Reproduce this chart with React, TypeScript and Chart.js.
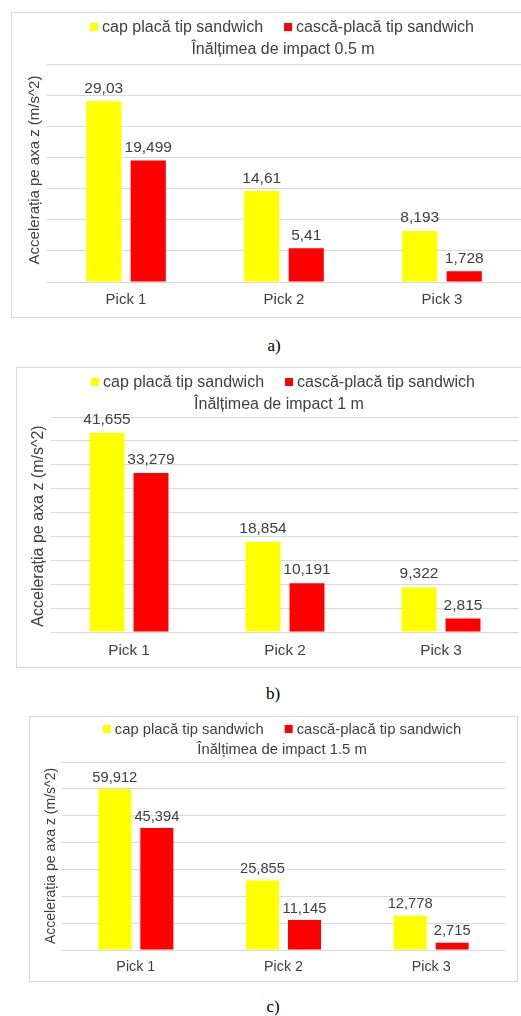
import React, { useEffect, useRef } from "react";
import { Chart, registerables } from "chart.js";

Chart.register(...registerables);

// ---------- data ----------
const categories = ["Pick 1", "Pick 2", "Pick 3"];
const seriesNames = ["cap placă tip sandwich", "cască-placă tip sandwich"];
const seriesColors = ["#FFFF00", "#FF0000"];

const capA = [29.03, 14.61, 8.193];
const cascaA = [19.499, 5.41, 1.728];
const capB = [41.655, 18.854, 9.322];
const cascaB = [33.279, 10.191, 2.815];
const capC = [59.912, 25.855, 12.778];
const cascaC = [45.394, 11.145, 2.715];

const chartTitles = [
  "Înălțimea de impact 0.5 m",
  "Înălțimea de impact 1 m",
  "Înălțimea de impact 1.5 m",
];
const yAxisTitle = "Accelerația pe axa z (m/s^2)";
const yMaxes = [35, 45, 70];
const ySteps = [5, 5, 10];
const captions = ["a)", "b)", "c)"];

// ---------- styles / layout ----------
const FONT = "'Liberation Sans', Arial, sans-serif";
const TEXT = "#404040";
const GRID = "#d9d9d9";

type Panel = {
  series: number[][];
  border: { left: number; top: number; width: number; height: number };
  canvas: { left: number; top: number; width: number; height: number };
  pad: { left: number; right: number; top: number; bottom: number };
  xAxisH: number;
  tickPad: number;
  tickSize: number;
  labelSize: number;
  labelGap: number;
  legendSize: number;
  legendY: number;
  legendCx: number;
  titleSize: number;
  titleY: number;
  titleCx: number;
  yTitleSize: number;
  yTitleX: number;
  yTitleY: number;
  catPct: number;
  barPct: number;
  caption: { x: number; y: number };
};

const panels: Panel[] = [
  {
    series: [capA, cascaA],
    border: { left: 11, top: 12, width: 530, height: 306 },
    canvas: { left: 12, top: 13, width: 509, height: 303 },
    pad: { left: 35, right: 0, top: 51, bottom: 0 },
    xAxisH: 34,
    tickPad: 9,
    tickSize: 15,
    labelSize: 15.5,
    labelGap: 8.5,
    legendSize: 16,
    legendY: 14,
    legendCx: 270,
    titleSize: 16,
    titleY: 37,
    titleCx: 271,
    yTitleSize: 15,
    yTitleX: 23,
    yTitleY: 157,
    catPct: 0.563,
    barPct: 0.79,
    caption: { x: 274, y: 345 },
  },
  {
    series: [capB, cascaB],
    border: { left: 16, top: 367, width: 530, height: 301 },
    canvas: { left: 17, top: 368, width: 504, height: 299 },
    pad: { left: 34, right: 2, top: 49, bottom: 0 },
    xAxisH: 35,
    tickPad: 10,
    tickSize: 15.3,
    labelSize: 15.5,
    labelGap: 9,
    legendSize: 16,
    legendY: 14,
    legendCx: 266,
    titleSize: 16,
    titleY: 37,
    titleCx: 262,
    yTitleSize: 16,
    yTitleX: 22,
    yTitleY: 158,
    catPct: 0.564,
    barPct: 0.795,
    caption: { x: 273, y: 693 },
  },
  {
    series: [capC, cascaC],
    border: { left: 29, top: 716, width: 489, height: 266 },
    canvas: { left: 30, top: 717, width: 486, height: 263 },
    pad: { left: 32, right: 11, top: 45, bottom: 0 },
    xAxisH: 30,
    tickPad: 8,
    tickSize: 14.3,
    labelSize: 14.7,
    labelGap: 7.5,
    legendSize: 14.8,
    legendY: 12,
    legendCx: 252,
    titleSize: 14.8,
    titleY: 33,
    titleCx: 252,
    yTitleSize: 14,
    yTitleX: 21,
    yTitleY: 139,
    catPct: 0.569,
    barPct: 0.786,
    caption: { x: 273, y: 1006 },
  },
];

const fmt = (v: number) => String(v).replace(".", ",");

const decorPlugin = {
  id: "decor",
  afterDatasetsDraw(chart: any, _args: any, opts: any) {
    const ctx = chart.ctx as CanvasRenderingContext2D;
    ctx.save();
    // data labels
    ctx.font = `${opts.labelSize}px ${FONT}`;
    ctx.fillStyle = TEXT;
    ctx.textAlign = "center";
    ctx.textBaseline = "alphabetic";
    chart.data.datasets.forEach((ds: any, di: number) => {
      const meta = chart.getDatasetMeta(di);
      meta.data.forEach((el: any, i: number) => {
        ctx.fillText(fmt(ds.data[i]), el.x, el.y - opts.labelGap);
      });
    });

    // legend
    ctx.font = `${opts.legendSize}px ${FONT}`;
    ctx.textAlign = "left";
    ctx.textBaseline = "middle";
    const box = 8;
    const gapBT = 4;
    const gapItems = 21;
    const widths = chart.data.datasets.map((ds: any) => ctx.measureText(ds.label).width);
    const total =
      widths.reduce((a: number, b: number) => a + b, 0) +
      widths.length * (box + gapBT) +
      (widths.length - 1) * gapItems;
    let x = opts.legendCx - total / 2;
    chart.data.datasets.forEach((ds: any, di: number) => {
      ctx.fillStyle = ds.backgroundColor;
      ctx.fillRect(x, opts.legendY - box / 2, box, box);
      x += box + gapBT;
      ctx.fillStyle = TEXT;
      ctx.fillText(ds.label, x, opts.legendY + 0.5);
      x += widths[di] + gapItems;
    });

    // title
    ctx.font = `${opts.titleSize}px ${FONT}`;
    ctx.textAlign = "center";
    ctx.fillStyle = TEXT;
    ctx.fillText(opts.title, opts.titleCx, opts.titleY);

    // y axis title
    ctx.translate(opts.yTitleX, opts.yTitleY);
    ctx.rotate(-Math.PI / 2);
    ctx.font = `${opts.yTitleSize}px ${FONT}`;
    ctx.textAlign = "center";
    ctx.textBaseline = "middle";
    ctx.fillText(opts.yTitle, 0, 0);
    ctx.restore();
  },
};

function BarPanel({ idx }: { idx: number }) {
  const ref = useRef<HTMLCanvasElement | null>(null);
  const p = panels[idx];
  useEffect(() => {
    if (!ref.current) return;
    const chart = new Chart(ref.current, {
      type: "bar",
      data: {
        labels: categories,
        datasets: p.series.map((vals, si) => ({
          label: seriesNames[si],
          data: vals,
          backgroundColor: seriesColors[si],
          borderWidth: 0,
          categoryPercentage: p.catPct,
          barPercentage: p.barPct,
        })),
      },
      options: {
        animation: false,
        responsive: false,
        maintainAspectRatio: false,
        layout: { padding: p.pad },
        plugins: {
          legend: { display: false },
          title: { display: false },
          tooltip: { enabled: false },
          decor: {
            labelSize: p.labelSize,
            labelGap: p.labelGap,
            legendSize: p.legendSize,
            legendY: p.legendY,
            legendCx: p.legendCx,
            titleSize: p.titleSize,
            titleY: p.titleY,
            titleCx: p.titleCx,
            title: chartTitles[idx],
            yTitleSize: p.yTitleSize,
            yTitleX: p.yTitleX,
            yTitleY: p.yTitleY,
            yTitle: yAxisTitle,
          },
        } as any,
        scales: {
          x: {
            grid: { display: false, drawTicks: false },
            border: { display: false },
            ticks: {
              color: TEXT,
              padding: p.tickPad,
              font: { family: FONT, size: p.tickSize },
              maxRotation: 0,
            },
            afterFit: (s: any) => {
              s.height = p.xAxisH;
            },
          },
          y: {
            min: 0,
            max: yMaxes[idx],
            ticks: { display: false, stepSize: ySteps[idx] },
            grid: { color: GRID, lineWidth: 1, drawTicks: false },
            border: { display: false },
            afterFit: (s: any) => {
              s.width = 0;
            },
          },
        },
      },
      plugins: [decorPlugin],
    });
    return () => chart.destroy();
  }, [idx]);

  return (
    <>
      <div
        style={{
          position: "absolute",
          left: p.border.left,
          top: p.border.top,
          width: p.border.width,
          height: p.border.height,
          border: `1px solid ${GRID}`,
          boxSizing: "border-box",
          background: "#fff",
        }}
      />
      <canvas
        ref={ref}
        width={p.canvas.width}
        height={p.canvas.height}
        style={{
          position: "absolute",
          left: p.canvas.left,
          top: p.canvas.top,
          width: p.canvas.width,
          height: p.canvas.height,
        }}
      />
      <div
        style={{
          position: "absolute",
          left: p.caption.x,
          top: p.caption.y,
          transform: "translate(-50%, -50%)",
          fontFamily: "'Liberation Serif', 'Times New Roman', serif",
          fontSize: 17,
          lineHeight: 1,
          color: "#000",
          whiteSpace: "nowrap",
        }}
      >
        {captions[idx]}
      </div>
    </>
  );
}

export default function App() {
  return (
    <div
      style={{
        position: "fixed",
        left: 0,
        top: 0,
        width: 521,
        height: 1016,
        overflow: "hidden",
        background: "#fff",
      }}
    >
      {panels.map((_, i) => (
        <BarPanel key={i} idx={i} />
      ))}
    </div>
  );
}
